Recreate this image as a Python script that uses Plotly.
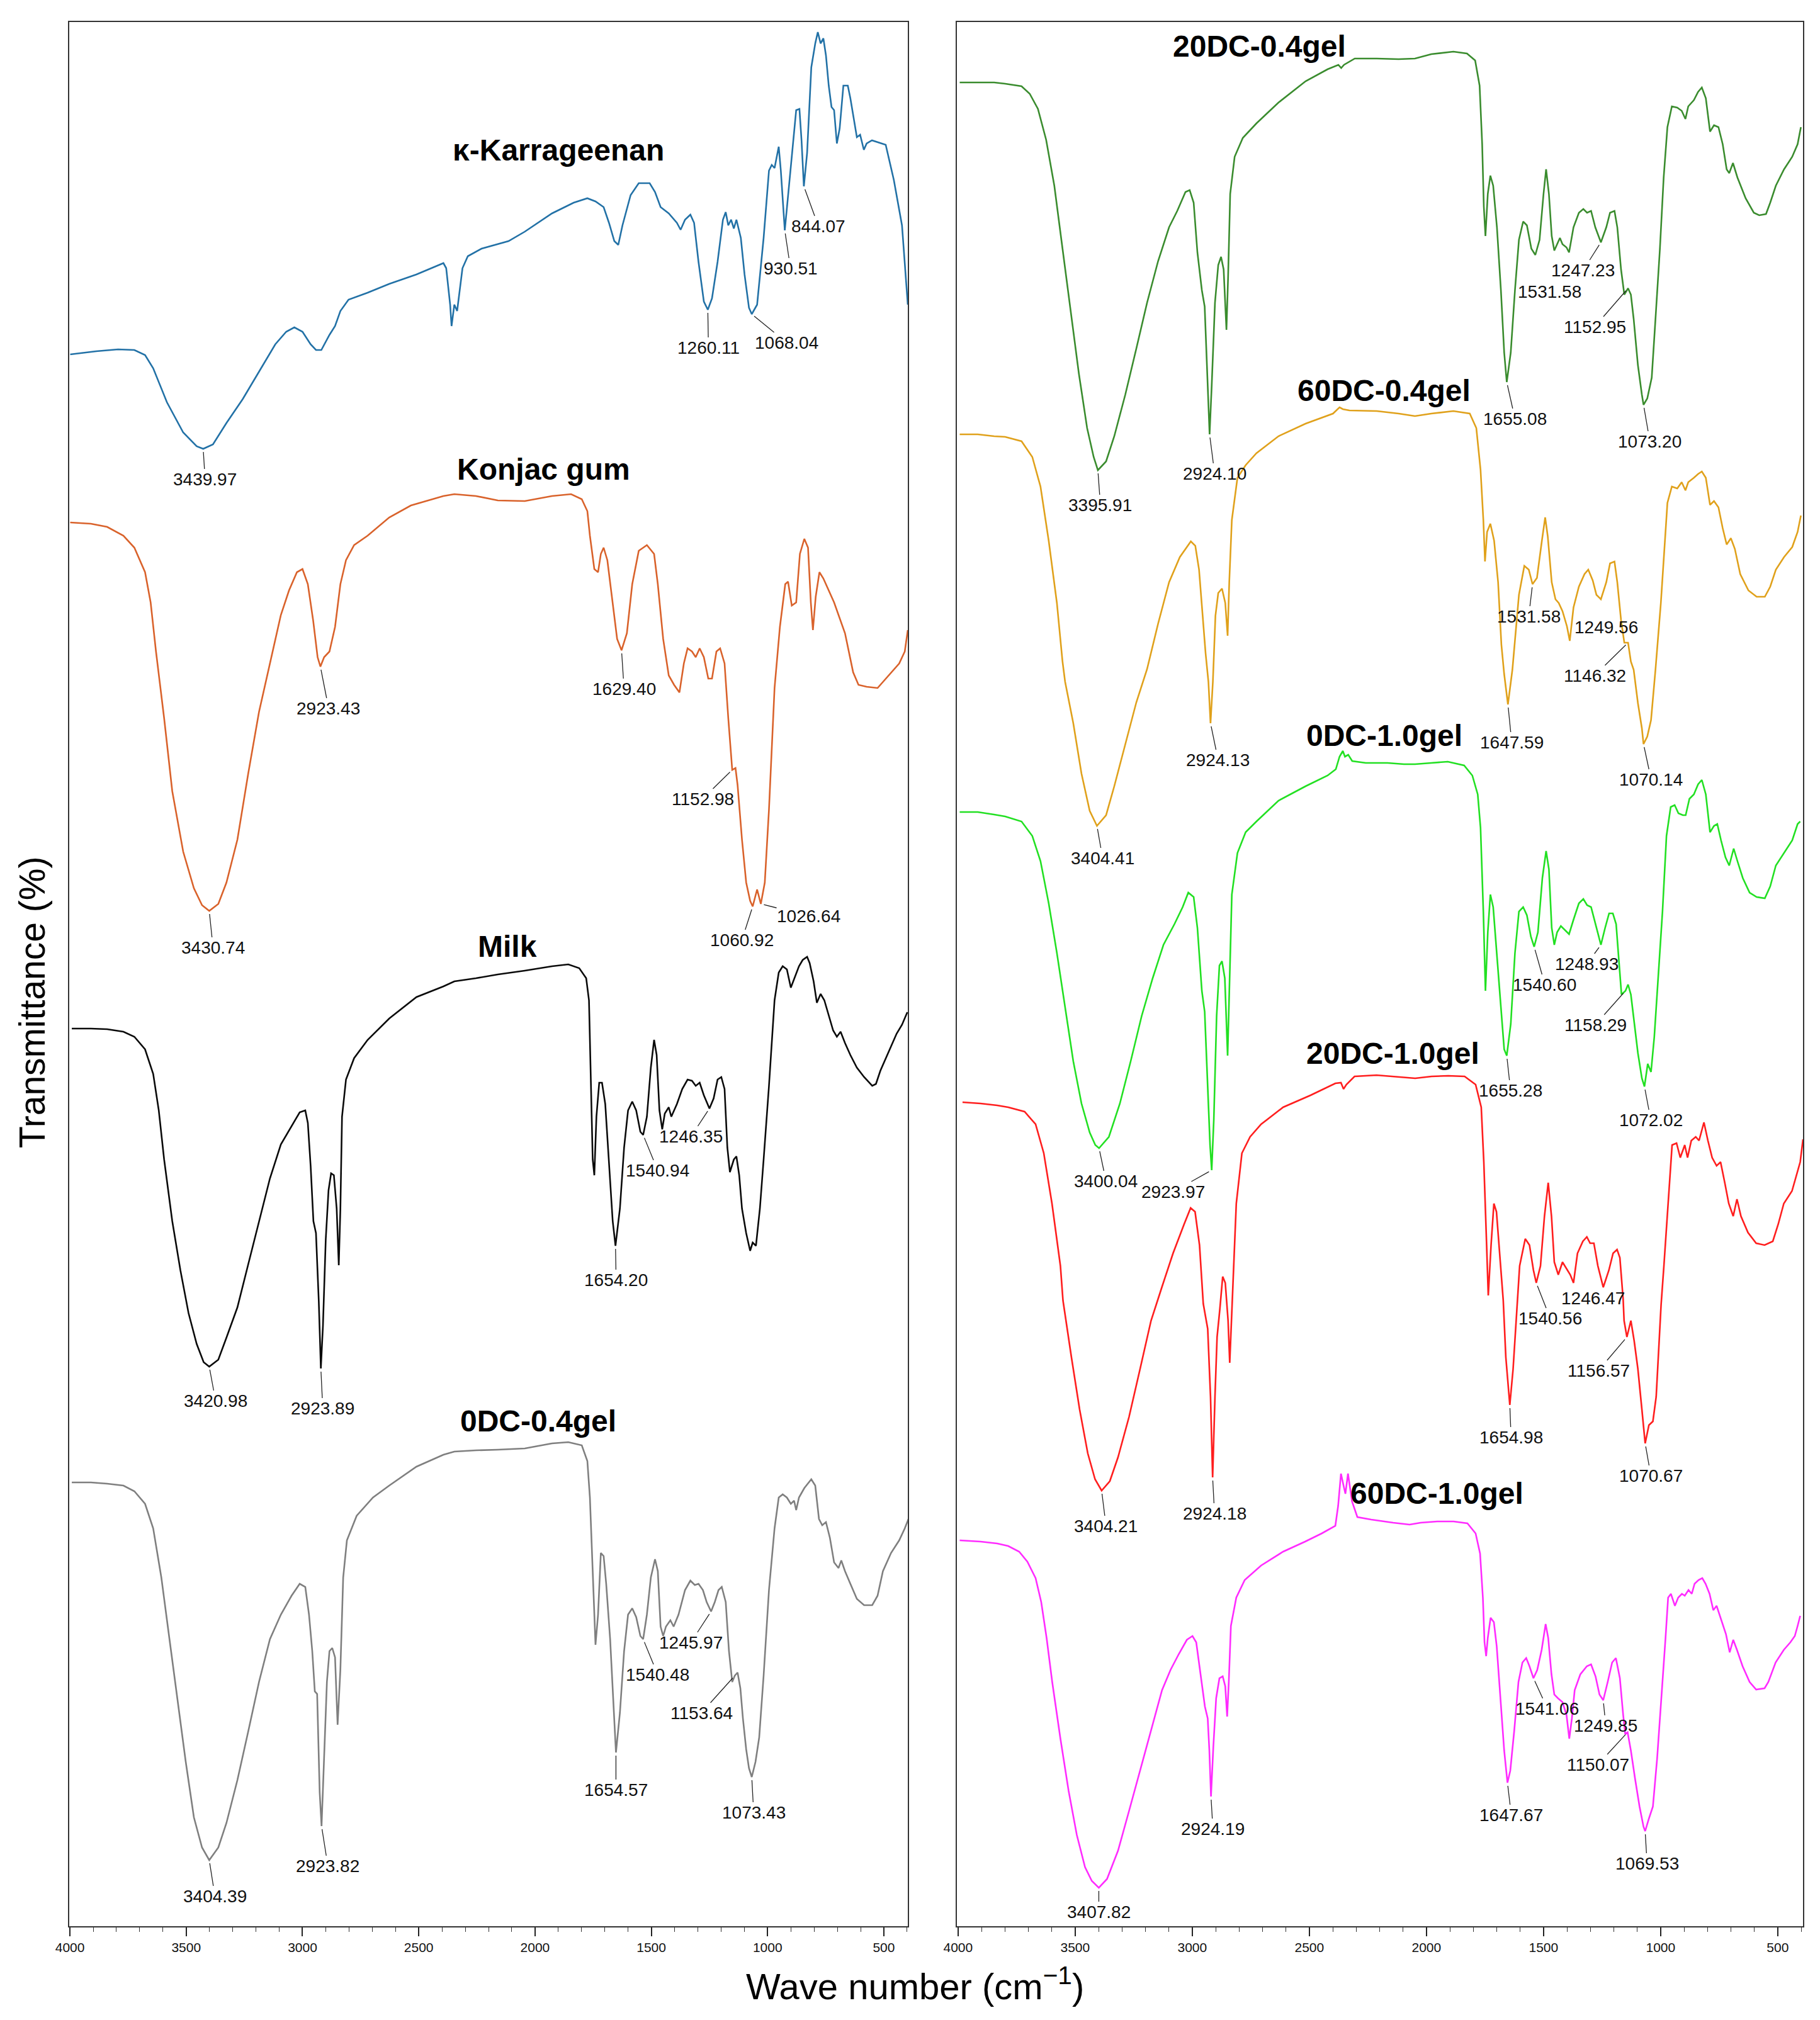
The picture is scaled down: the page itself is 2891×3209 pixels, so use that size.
import glob
import os
import numpy as np
import plotly.graph_objects as go

# ---------------- data ----------------
# each spectrum: (wavenumber cm-1, stacked transmittance in arbitrary offset units)
kappa = [(3999,249.7),(3887,250.2),(3793,250.5),(3723,250.4),(3677,249.6),(3642,247.5),(3583,242.1),(3513,237.3),(3455,235.1),(3427,234.7),(3385,235.4),(3327,238.8),(3257,242.6),(3187,247.0),(3117,251.3),(3070,253.3),(3035,254.0),(3000,253.3),(2965,251.3),(2942,250.4),(2919,250.4),(2884,252.8),(2860,254.2),(2837,256.6),(2802,258.4),(2720,259.5),(2627,260.9),(2510,262.4),(2394,264.2),(2382,263.4),(2365,257.6),(2359,254.2),(2347,257.6),(2335,256.6),(2312,263.4),(2289,265.3),(2230,266.5),(2114,267.7),(2044,269.2),(1927,272.1),(1834,273.8),(1775,274.5),(1740,274.0),(1705,273.1),(1682,270.6),(1659,267.7),(1642,267.1),(1624,270.2),(1589,275.0),(1554,276.9),(1507,276.9),(1484,275.5),(1460,273.1),(1425,272.1),(1390,270.6),(1374,269.5),(1355,271.1),(1332,271.9),(1316,270.6),(1297,264.4),(1274,258.1),(1257,256.8),(1239,258.6),(1215,264.4),(1192,271.1),(1180,272.3),(1169,270.2),(1157,271.1),(1145,269.7),(1134,271.1),(1115,268.2),(1099,262.4),(1080,257.1),(1068,256.1),(1045,257.6),(1017,268.2),(994,278.9),(982,279.8),(970,279.3),(952,282.7),(943,278.9),(926,269.4),(912,275.0),(896,280.8),(877,288.5),(863,288.7),(854,283.7),(844,276.4),(830,281.7),(812,295.3),(795,299.1),(784,300.9),(772,299.1),(760,299.9),(749,297.2),(737,292.4),(725,289.0),(714,288.5),(702,283.2),(690,285.6),(674,292.4),(655,292.4),(644,290.4),(616,284.2),(602,284.6),(586,282.2),(574,283.2),(551,283.7),(492,283.0),(457,277.4),(422,270.2),(397,257.6)]

konjac = [(3999,223.0),(3910,222.8),(3840,222.3),(3770,220.9),(3723,219.0),(3677,215.1),(3653,210.3),(3630,202.5),(3595,191.9),(3560,180.3),(3513,170.7),(3467,164.9),(3432,162.2),(3401,161.3),(3362,162.4),(3327,165.8),(3280,172.6),(3233,183.2),(3187,192.9),(3140,200.6),(3093,208.3),(3058,212.2),(3024,215.1),(3000,215.6),(2977,213.2),(2954,207.4),(2935,201.6),(2923,200.1),(2907,201.6),(2884,202.5),(2860,206.4),(2837,213.2),(2813,217.0),(2778,219.4),(2720,220.9),(2627,223.8),(2534,225.7),(2394,227.2),(2347,227.5),(2254,227.2),(2160,226.5),(2044,226.4),(1927,227.2),(1845,227.5),(1799,226.7),(1775,224.8),(1764,220.9),(1745,215.6),(1729,215.1),(1717,218.0),(1705,219.0),(1689,217.0),(1670,211.2),(1647,204.5),(1628,202.7),(1605,205.4),(1582,213.2),(1554,218.5),(1519,219.4),(1488,218.0),(1472,213.2),(1449,204.5),(1425,198.7),(1402,197.2),(1379,196.0),(1360,200.6),(1344,203.0),(1325,202.5),(1309,201.6),(1292,203.0),(1274,201.6),(1255,198.2),(1239,198.2),(1220,202.5),(1204,203.0),(1185,200.6),(1169,191.9),(1152,183.7),(1138,184.0),(1129,181.3),(1110,172.6),(1092,165.8),(1075,162.9),(1064,162.0),(1045,164.7),(1029,162.4),(1012,165.8),(994,177.4),(970,196.7),(947,206.4),(924,213.2),(912,213.6),(896,209.8),(877,210.3),(861,218.0),(842,220.4),(826,219.0),(814,210.3),(805,205.9),(793,211.2),(777,215.1),(760,214.1),(737,212.2),(714,210.3),(667,205.4),(632,199.2),(609,197.2),(574,196.9),(527,196.7),(480,198.7),(434,200.6),(410,202.5),(397,205.9)]

milk = [(3992,142.6),(3910,142.6),(3840,142.5),(3770,142.1),(3723,141.3),(3677,139.3),(3642,135.4),(3618,129.6),(3595,121.8),(3560,112.0),(3525,104.2),(3490,97.4),(3455,92.5),(3425,89.6),(3401,88.9),(3362,90.0),(3327,93.5),(3280,98.3),(3233,105.2),(3187,112.0),(3140,118.8),(3093,124.2),(3047,127.1),(3012,129.3),(2988,129.6),(2977,127.6),(2965,120.8),(2953,112.0),(2942,110.1),(2930,99.3),(2921,88.6),(2912,95.4),(2900,109.1),(2888,116.9),(2877,119.6),(2865,119.3),(2853,114.0),(2844,105.0),(2837,114.0),(2830,128.6),(2813,134.5),(2778,137.9),(2720,140.8),(2627,144.2),(2510,147.6),(2394,149.3),(2347,150.1),(2254,150.6),(2160,151.2),(2044,151.8),(1927,152.5),(1857,152.8),(1810,152.2),(1780,150.6),(1768,147.1),(1759,133.5),(1752,121.8),(1745,119.3),(1736,128.6),(1724,134.0),(1712,134.0),(1698,130.6),(1682,120.8),(1666,112.0),(1654,108.1),(1635,114.0),(1617,123.7),(1600,129.6),(1582,131.0),(1565,129.6),(1547,126.2),(1535,125.7),(1519,128.6),(1502,136.4),(1488,140.8),(1477,138.4),(1465,129.6),(1453,126.6),(1442,129.1),(1425,130.1),(1414,128.6),(1390,130.6),(1367,133.0),(1344,134.5),(1325,134.3),(1309,133.5),(1292,134.0),(1274,132.0),(1250,129.9),(1232,131.5),(1215,134.5),(1199,134.9),(1185,133.0),(1173,123.7),(1162,119.8),(1145,121.8),(1134,122.3),(1122,119.3),(1110,114.0),(1092,110.1),(1075,107.3),(1064,108.6),(1050,108.1),(1033,114.0),(1017,121.8),(994,133.5),(970,147.1),(952,151.5),(935,152.5),(917,152.0),(900,149.1),(884,150.6),(865,152.5),(849,153.5),(830,154.0),(819,153.0),(802,150.1),(788,146.7),(772,148.1),(756,147.1),(737,144.7),(718,142.3),(702,141.3),(686,142.1),(667,140.3),(644,138.4),(616,136.4),(585,134.9),(550,133.5),(534,133.8),(515,135.9),(480,138.8),(445,141.8),(422,143.2),(399,145.2)]

dc0_04 = [(3992,70.5),(3910,70.5),(3840,70.3),(3770,70.0),(3723,69.1),(3677,67.1),(3642,63.2),(3607,55.4),(3572,45.6),(3537,35.9),(3502,26.1),(3467,17.3),(3432,12.5),(3401,10.5),(3362,12.5),(3327,16.4),(3280,23.2),(3233,31.0),(3187,38.8),(3140,45.6),(3093,49.5),(3047,52.5),(3012,54.4),(2988,53.9),(2972,49.5),(2958,43.7),(2947,37.3),(2937,36.9),(2926,21.2),(2918,15.9),(2907,26.1),(2895,38.8),(2884,43.7),(2872,44.2),(2860,42.7),(2849,32.0),(2837,40.8),(2825,55.4),(2809,61.3),(2767,65.2),(2697,68.1),(2627,70.0),(2510,73.0),(2394,74.9),(2347,75.4),(2254,75.6),(2160,75.7),(2044,75.9),(1927,76.7),(1857,76.9),(1799,76.4),(1775,73.9),(1764,68.1),(1752,55.4),(1740,44.7),(1729,49.5),(1717,59.3),(1705,58.8),(1694,54.4),(1677,45.6),(1663,35.9),(1652,27.6),(1635,33.9),(1617,43.7),(1600,49.5),(1582,50.5),(1565,49.1),(1547,46.1),(1535,45.6),(1519,49.5),(1502,55.4),(1484,58.3),(1472,56.4),(1460,47.6),(1449,46.1),(1437,47.6),(1418,48.6),(1404,47.6),(1383,49.5),(1355,53.4),(1332,54.9),(1313,54.2),(1297,54.4),(1278,53.4),(1262,51.5),(1243,50.0),(1227,51.5),(1211,53.4),(1197,53.9),(1180,51.5),(1166,43.7),(1152,38.8),(1141,39.8),(1129,40.3),(1117,37.8),(1106,33.0),(1092,28.1),(1080,25.1),(1068,23.7),(1052,26.1),(1036,30.0),(1017,39.8),(994,53.4),(970,63.2),(952,68.1),(935,68.6),(917,68.1),(900,67.1),(886,67.6),(877,66.1),(865,68.1),(842,69.6),(812,71.0),(795,70.0),(779,64.7),(765,63.7),(749,64.2),(732,61.7),(714,57.8),(695,56.9),(683,58.1),(667,56.4),(644,54.4),(616,52.0),(585,51.0),(550,51.0),(527,52.5),(504,56.4),(469,59.3),(434,61.3),(410,63.2),(394,64.7)]

dc20_04 = [(3993,292.9),(3916,292.9),(3846,292.9),(3799,292.7),(3729,292.3),(3694,291.1),(3659,288.7),(3624,283.8),(3589,276.5),(3554,266.5),(3519,256.6),(3484,246.6),(3449,238.0),(3421,233.4),(3403,231.3),(3368,232.7),(3333,236.7),(3286,243.3),(3239,250.6),(3193,257.9),(3146,264.5),(3099,269.9),(3064,272.5),(3029,275.5),(3011,275.8),(2994,273.8),(2978,265.9),(2959,259.9),(2947,257.3),(2936,246.6),(2926,237.0),(2917,244.7),(2903,257.9),(2889,263.9),(2877,265.2),(2866,263.2),(2854,253.6),(2847,261.9),(2838,275.2),(2819,281.1),(2784,284.1),(2726,286.4),(2632,289.7),(2516,293.1),(2422,295.0),(2376,295.7),(2364,295.2),(2352,295.7),(2306,296.7),(2212,296.7),(2119,296.6),(2049,296.7),(1979,297.4),(1885,297.8),(1827,297.5),(1792,296.4),(1773,292.4),(1762,283.1),(1755,273.2),(1748,268.5),(1738,275.2),(1727,278.1),(1715,276.5),(1699,269.9),(1682,259.9),(1668,250.0),(1657,245.3),(1640,250.0),(1622,259.9),(1605,267.9),(1587,270.8),(1571,270.2),(1552,266.5),(1535,265.5),(1517,267.9),(1500,275.2),(1489,279.1),(1477,275.2),(1465,268.5),(1454,266.2),(1442,267.2),(1430,268.2),(1419,267.2),(1402,266.7),(1391,265.9),(1372,269.9),(1349,272.2),(1330,272.8),(1314,272.2),(1297,272.5),(1279,269.9),(1255,267.5),(1232,269.9),(1216,272.2),(1197,272.5),(1185,269.9),(1169,263.2),(1155,259.2),(1139,260.2),(1127,259.2),(1115,255.3),(1097,248.0),(1080,243.3),(1073,241.7),(1057,242.7),(1038,246.0),(1022,255.3),(1003,266.5),(987,277.8),(971,285.8),(952,289.1),(929,288.9),(910,288.4),(894,287.1),(882,289.1),(858,290.1),(840,291.4),(824,292.1),(807,290.4),(789,285.1),(772,286.1),(753,285.8),(735,283.1),(718,279.1),(707,278.5),(691,280.1),(672,277.8),(637,274.5),(602,272.2),(579,271.8),(550,272.0),(532,273.8),(508,276.5),(473,279.1),(438,281.1),(415,283.1),(401,285.8)]

dc60_04 = [(3993,237.0),(3916,237.0),(3846,236.7),(3799,236.6),(3729,235.9),(3683,233.4),(3648,228.7),(3613,220.1),(3578,210.2),(3554,200.9),(3543,197.7),(3508,191.1),(3473,183.1),(3438,177.2),(3407,174.8),(3368,176.5),(3333,181.1),(3286,187.8),(3239,194.4),(3193,199.7),(3146,206.9),(3099,213.5),(3053,217.5),(3006,220.0),(2987,219.3),(2971,215.5),(2954,206.9),(2943,202.2),(2931,197.7),(2922,191.1),(2912,197.7),(2901,208.2),(2889,211.8),(2873,212.5),(2859,210.2),(2849,205.0),(2842,213.5),(2831,223.4),(2807,230.1),(2772,232.1),(2726,234.0),(2632,236.7),(2516,238.7),(2399,240.3),(2371,241.3),(2357,241.0),(2329,240.8),(2212,240.7),(2119,240.3),(2049,239.9),(1979,240.3),(1885,240.7),(1815,240.3),(1787,238.0),(1769,231.4),(1757,223.4),(1750,216.8),(1741,221.5),(1727,222.8),(1711,220.1),(1694,213.5),(1680,203.6),(1668,198.9),(1652,194.1),(1633,199.6),(1617,206.9),(1605,211.5),(1582,216.1),(1563,215.5),(1547,213.2),(1528,214.2),(1507,220.1),(1493,223.8),(1482,220.8),(1465,213.5),(1449,210.8),(1435,210.2),(1419,208.9),(1400,206.5),(1388,204.2),(1372,209.5),(1349,212.8),(1325,214.8),(1309,215.5),(1290,213.8),(1274,211.5),(1255,210.8),(1232,213.5),(1216,216.5),(1197,216.8),(1185,213.5),(1169,207.5),(1155,203.9),(1139,203.9),(1127,200.9),(1115,199.6),(1097,194.3),(1080,190.3),(1073,187.8),(1057,189.0),(1041,191.6),(1022,199.6),(999,210.2),(971,226.1),(952,228.7),(929,228.4),(910,229.4),(894,228.1),(882,229.4),(858,230.1),(840,230.7),(824,231.1),(807,230.1),(789,225.8),(772,226.4),(753,225.4),(735,222.1),(718,219.5),(700,220.5),(683,218.8),(660,214.8),(625,212.2),(590,211.2),(555,211.2),(532,212.8),(508,215.5),(473,217.5),(438,219.1),(415,221.5),(401,224.1)]

dc0_10 = [(3993,177.0),(3916,177.0),(3846,176.6),(3799,176.3),(3729,175.5),(3683,173.2),(3648,169.2),(3613,162.5),(3578,154.6),(3543,146.0),(3508,137.4),(3473,130.7),(3438,126.1),(3414,124.1),(3398,123.6),(3356,125.4),(3309,130.7),(3263,137.4),(3216,144.6),(3169,150.6),(3123,155.9),(3076,159.2),(3041,161.9),(3017,164.2),(2994,163.5),(2978,158.6),(2959,148.6),(2947,145.3),(2936,134.7),(2924,124.1),(2917,120.1),(2908,128.1),(2896,144.6),(2884,152.6),(2873,153.3),(2861,150.6),(2849,138.3),(2840,150.6),(2831,163.9),(2807,170.5),(2772,173.8),(2726,175.5),(2632,178.8),(2516,181.1),(2422,182.8),(2387,183.8),(2371,185.8),(2357,186.7),(2348,185.8),(2334,186.1),(2317,185.1),(2259,184.8),(2166,184.8),(2096,184.6),(2049,184.6),(1979,184.8),(1909,185.0),(1839,184.4),(1804,182.8),(1781,179.8),(1769,174.5),(1757,161.2),(1748,148.6),(1738,157.9),(1727,163.9),(1715,161.9),(1699,154.6),(1682,146.0),(1668,139.3),(1657,138.3),(1640,143.3),(1622,154.6),(1605,161.2),(1587,161.9),(1571,160.6),(1554,157.2),(1540,155.6),(1524,157.9),(1505,166.5),(1489,170.8),(1477,167.9),(1465,158.6),(1454,155.9),(1442,157.9),(1426,158.9),(1407,158.2),(1391,157.6),(1372,159.9),(1349,162.5),(1330,163.2),(1314,162.2),(1297,161.9),(1279,159.2),(1255,155.9),(1237,158.6),(1220,160.9),(1204,160.9),(1190,159.2),(1178,153.3),(1167,148.0),(1150,148.6),(1139,149.6),(1127,148.0),(1111,143.3),(1097,138.7),(1080,134.7),(1069,133.4),(1055,137.0),(1041,135.7),(1027,141.3),(1010,151.3),(992,161.2),(975,173.2),(957,177.8),(940,178.1),(924,176.8),(905,176.5),(893,176.5),(877,179.1),(858,179.8),(840,181.4),(824,182.1),(807,179.8),(789,173.8),(772,174.8),(758,175.1),(742,172.5),(723,169.8),(707,168.5),(688,171.2),(672,169.2),(649,166.5),(620,164.2),(590,163.5),(555,163.3),(532,165.2),(508,168.5),(473,170.5),(438,172.5),(415,175.1),(404,175.5)]

dc20_10 = [(3981,130.9),(3904,130.7),(3833,130.4),(3786,130.1),(3716,129.4),(3669,127.4),(3634,122.8),(3599,114.8),(3563,104.9),(3552,99.4),(3516,90.4),(3481,82.1),(3446,75.1),(3415,71.0),(3387,69.2),(3352,70.7),(3317,74.5),(3270,80.9),(3223,88.5),(3176,96.2),(3129,101.6),(3082,106.9),(3035,111.5),(3007,114.1),(2988,113.5),(2969,108.2),(2953,98.9),(2934,94.9),(2922,84.1),(2913,71.3),(2903,84.1),(2894,93.6),(2882,98.1),(2870,103.2),(2859,102.2),(2847,96.2),(2840,89.5),(2833,96.2),(2823,104.9),(2812,114.8),(2788,122.8),(2753,125.4),(2706,127.4),(2612,130.1),(2495,132.0),(2389,133.9),(2365,134.0),(2354,133.0),(2342,133.7),(2307,135.0),(2213,135.2),(2142,135.0),(2048,134.7),(1978,135.0),(1907,135.1),(1837,135.0),(1790,133.7),(1766,130.1),(1755,121.4),(1743,108.2),(1736,100.2),(1724,108.2),(1712,114.8),(1701,113.5),(1684,104.9),(1672,99.4),(1661,90.4),(1644,82.8),(1630,88.5),(1614,97.4),(1602,104.9),(1578,109.2),(1560,108.2),(1543,104.2),(1531,102.2),(1513,104.9),(1496,112.8),(1480,118.1),(1466,112.8),(1454,105.5),(1437,103.5),(1419,105.5),(1402,104.5),(1386,103.5),(1372,102.2),(1355,106.9),(1332,108.8),(1315,109.5),(1301,108.5),(1285,108.5),(1268,104.9),(1245,101.5),(1221,104.2),(1203,106.9),(1186,107.5),(1174,106.2),(1160,99.6),(1156,96.2),(1144,93.6),(1127,96.2),(1113,93.0),(1097,88.5),(1080,82.1),(1066,76.7),(1050,79.6),(1033,80.2),(1019,84.1),(1008,92.3),(998,98.7),(986,104.9),(968,114.8),(951,124.1),(932,124.4),(916,122.1),(897,124.1),(885,122.1),(869,124.8),(850,125.4),(836,124.8),(815,127.7),(798,124.8),(780,122.1),(761,120.8),(744,121.4),(726,118.1),(709,114.8),(690,112.8),(674,115.5),(657,112.8),(627,110.2),(592,108.5),(556,108.2),(521,108.8),(498,111.5),(474,114.8),(439,116.8),(404,121.4),(392,125.0)]

dc60_10 = [(3993,61.3),(3904,61.1),(3833,60.8),(3786,60.4),(3739,59.5),(3704,57.9),(3669,55.3),(3645,51.5),(3622,45.8),(3598,38.8),(3563,29.8),(3528,21.5),(3493,14.5),(3458,9.4),(3429,7.2),(3399,6.1),(3364,7.5),(3317,12.0),(3270,18.3),(3223,24.7),(3176,31.1),(3129,37.5),(3093,40.7),(3058,43.2),(3023,45.5),(2999,46.1),(2983,45.1),(2964,40.0),(2946,34.9),(2934,33.0),(2927,27.9),(2920,20.6),(2910,28.5),(2898,36.2),(2884,39.4),(2870,39.7),(2859,38.1),(2851,33.3),(2844,38.8),(2835,47.7),(2812,52.2),(2776,55.0),(2706,57.3),(2612,59.5),(2518,61.1),(2447,62.4),(2389,63.6),(2377,66.8),(2365,71.9),(2354,70.0),(2346,68.7),(2335,71.9),(2318,67.5),(2295,65.0),(2236,64.6),(2142,64.1),(2072,63.8),(2025,64.1),(1954,64.3),(1884,64.3),(1825,64.0),(1790,62.4),(1771,59.2),(1759,52.2),(1752,45.1),(1745,42.9),(1738,45.8),(1726,49.0),(1712,48.3),(1700,44.5),(1684,36.2),(1668,27.9),(1654,22.8),(1642,24.7),(1625,31.1),(1607,38.8),(1590,41.9),(1574,42.6),(1560,41.3),(1543,39.4),(1527,40.7),(1508,43.9),(1491,48.0),(1480,45.8),(1466,40.0),(1454,36.8),(1438,36.2),(1419,35.6),(1402,33.6),(1390,29.8),(1379,33.0),(1367,37.5),(1343,40.0),(1315,41.3),(1297,41.6),(1278,39.7),(1261,36.8),(1245,35.9),(1226,38.8),(1207,41.9),(1191,42.6),(1174,39.4),(1160,33.6),(1151,30.5),(1141,30.8),(1127,27.9),(1109,23.4),(1090,19.0),(1073,15.8),(1066,15.1),(1050,17.1),(1033,19.0),(1015,26.6),(996,36.2),(979,45.8),(968,52.2),(956,52.8),(939,50.9),(925,52.2),(909,52.8),(897,52.5),(881,53.4),(867,52.8),(855,54.4),(838,55.0),(822,55.3),(808,54.4),(791,52.8),(775,50.2),(761,50.9),(744,49.0),(721,46.4),(705,43.5),(690,45.5),(674,43.9),(650,41.3),(620,38.8),(592,37.6),(556,37.8),(540,38.8),(509,41.9),(474,43.9),(446,45.1),(427,46.1),(415,47.7),(404,49.3)]

# peak labels: (label text, wavenumber where the label points on the trace)
peaks_kappa = [("3439.97", 3427), ("1260.11", 1257), ("1068.04", 1068), ("930.51", 926), ("844.07", 844)]
peaks_konjac = [("3430.74", 3401), ("2923.43", 2923), ("1629.40", 1628), ("1152.98", 1152), ("1060.92", 1064), ("1026.64", 1029)]
peaks_milk = [("3420.98", 3401), ("2923.89", 2921), ("1654.20", 1654), ("1540.94", 1535), ("1246.35", 1250)]
peaks_dc0_04 = [("3404.39", 3401), ("2923.82", 2918), ("1654.57", 1652), ("1540.48", 1535), ("1245.97", 1243), ("1153.64", 1141), ("1073.43", 1068)]
peaks_dc20_04 = [("3395.91", 3403), ("2924.10", 2926), ("1655.08", 1657), ("1531.58", 1535), ("1247.23", 1255), ("1152.95", 1139), ("1073.20", 1073)]
peaks_dc60_04 = [("3404.41", 3407), ("2924.13", 2922), ("1647.59", 1652), ("1531.58", 1547), ("1249.56", 1255), ("1146.32", 1139), ("1070.14", 1073)]
peaks_dc0_10 = [("3400.04", 3398), ("2923.97", 2917), ("1655.28", 1657), ("1540.60", 1540), ("1248.93", 1255), ("1158.29", 1150), ("1072.02", 1069)]
peaks_dc20_10 = [("3404.21", 3387), ("2924.18", 2913), ("1654.98", 1644), ("1540.56", 1531), ("1246.47", 1245), ("1156.57", 1144), ("1070.67", 1066)]
peaks_dc60_10 = [("3407.82", 3399), ("2924.19", 2920), ("1647.67", 1654), ("1541.06", 1543), ("1249.85", 1245), ("1150.07", 1141), ("1069.53", 1066)]

# ---------------- styling / layout (not data) ----------------
WIN_W, WIN_H = 2891, 3209
BODY = 8                      # default page margin around the plot div
W, H = WIN_W - 2 * BODY, WIN_H - 2 * BODY

def px_x(X):                  # window pixel -> paper fraction
    return (X - BODY) / W

def px_y(Y):
    return 1 - (Y - BODY) / H

def has_font(token):
    dirs = ["/usr/share/fonts", "/usr/local/share/fonts",
            os.path.expanduser("~/.fonts"), os.path.expanduser("~/.local/share/fonts")]
    for d in dirs:
        if glob.glob(os.path.join(d, "**", "*" + token + "*"), recursive=True):
            return True
    return False

NARROW = has_font("LiberationSansNarrow")
if NARROW:
    LBL_FONT = dict(family="Liberation Sans Narrow", size=35, color="#111111")
    TICK_FONT = dict(family="Liberation Sans Narrow", size=26, color="#111111")
else:
    LBL_FONT = dict(family="Liberation Sans, Arial", size=28, color="#111111")
    TICK_FONT = dict(family="Liberation Sans, Arial", size=21, color="#111111")
NAME_FONT = dict(family="Liberation Sans, Arial", size=48, color="#000000")

# label-text offsets (pixels) from the pointed position: (dx, dy) with dy downward
OFFSETS = {
    "kappa": [(3, 48), (1, 60), (55, 45), (9, 60), (23, 63)],
    "konjac": [(6, 58), (13, 66), (4, 61), (-47, 46), (-17, 53), (76, 19)],
    "milk": [(10, 54), (3, 63), (1, 54), (23, 56), (-29, 44)],
    "dc0_04": [(9, 57), (10, 63), (0, 59), (23, 56), (-32, 49), (-53, 59), (3, 56)],
    "dc20_04": [(4, 55), (8, 62), (13, 58), (23, 58), (-28, 44), (-53, 61), (10, 58)],
    "dc60_04": [(9, 51), (12, 58), (6, 60), (-6, 51), (9, 44), (-53, 52), (12, 56)],
    "dc0_10": [(11, 52), (-61, 34), (6, 55), (17, 60), (-22, 30), (-48, 54), (10, 53)],
    "dc20_10": [(7, 56), (3, 57), (2, 51), (22, 56), (-16, 17), (-45, 53), (9, 51)],
    "dc60_10": [(0, 38), (3, 51), (6, 51), (22, 48), (4, 40), (-47, 51), (3, 51)],
}

# (key, name, data, peaks, colour, panel, name-label position in data coords)
SERIES = [
    ("kappa", "\u03ba-Karrageenan", kappa, peaks_kappa, "#2271a6", 1, (1899, 282.2)),
    ("konjac", "Konjac gum", konjac, peaks_konjac, "#d9622b", 1, (1962, 231.5)),
    ("milk", "Milk", milk, peaks_milk, "#0a0a0a", 1, (2118, 155.7)),
    ("dc0_04", "0DC-0.4gel", dc0_04, peaks_dc0_04, "#7f7f7f", 1, (1985, 80.3)),
    ("dc20_04", "20DC-0.4gel", dc20_04, peaks_dc20_04, "#3a8c2e", 2, (2714, 298.7)),
    ("dc60_04", "60DC-0.4gel", dc60_04, peaks_dc60_04, "#e0a11b", 2, (2180, 244.0)),
    ("dc0_10", "0DC-1.0gel", dc0_10, peaks_dc0_10, "#22e022", 2, (2180, 189.2)),
    ("dc20_10", "20DC-1.0gel", dc20_10, peaks_dc20_10, "#ff1e1e", 2, (2144, 138.7)),
    ("dc60_10", "60DC-1.0gel", dc60_10, peaks_dc60_10, "#ff2bff", 2, (1955, 68.8)),
]

fig = go.Figure()
annotations = []
for key, name, data, peaks, color, panel, name_pos in SERIES:
    wn = [p[0] for p in data]
    tr = [p[1] for p in data]
    xa = "x" if panel == 1 else "x2"
    ya = "y" if panel == 1 else "y2"
    fig.add_trace(go.Scatter(x=wn, y=tr, mode="lines", name=name,
                             line=dict(color=color, width=2.6),
                             xaxis=xa, yaxis=ya, showlegend=False,
                             hoverinfo="x+y+name"))
    annotations.append(dict(x=name_pos[0], y=name_pos[1], xref=xa, yref=ya,
                            text="<b>%s</b>" % name, showarrow=False,
                            font=NAME_FONT, xanchor="center", yanchor="middle"))
    wn_inc = np.array(wn[::-1], dtype=float)
    tr_inc = np.array(tr[::-1], dtype=float)
    for (txt, w), (dx, dy) in zip(peaks, OFFSETS[key]):
        yv = float(np.interp(w, wn_inc, tr_inc))
        annotations.append(dict(x=w, y=yv, xref=xa, yref=ya, text=txt,
                                showarrow=True, arrowhead=0, arrowwidth=1.3,
                                arrowcolor="#222222", standoff=5,
                                ax=dx, ay=dy, font=LBL_FONT, borderpad=0))

# axis titles
annotations.append(dict(x=px_x(1453), y=px_y(3151), xref="paper", yref="paper",
                        text="Wave number (cm<sup>\u22121</sup>)", showarrow=False,
                        font=dict(family="Liberation Sans, Arial", size=58, color="#000"),
                        xanchor="center", yanchor="middle"))
annotations.append(dict(x=px_x(51), y=px_y(1592), xref="paper", yref="paper",
                        text="Transmittance (%)", showarrow=False, textangle=-90,
                        font=dict(family="Liberation Sans, Arial", size=57, color="#000"),
                        xanchor="center", yanchor="middle"))

xcommon = dict(showline=True, mirror=True, linecolor="#333333", linewidth=2,
               ticks="outside", ticklen=14, tickwidth=1.5, tickcolor="#222222",
               tick0=0, dtick=500, tickfont=TICK_FONT, showgrid=False,
               zeroline=False, tickformat="d", automargin=False,
               minor=dict(ticks="outside", dtick=100, ticklen=7, tickwidth=1.2,
                          tickcolor="#333333", showgrid=False))
ycommon = dict(showline=True, mirror=True, linecolor="#333333", linewidth=2,
               showticklabels=False, ticks="", showgrid=False, zeroline=False,
               range=[0, 302.5], automargin=False)
ydom = [px_y(3060), px_y(35)]

fig.update_layout(
    width=W, height=H,
    margin=dict(l=0, r=0, t=0, b=0, autoexpand=False),
    paper_bgcolor="white", plot_bgcolor="white",
    xaxis=dict(domain=[px_x(110), px_x(1442)], range=[4003, 397], anchor="y", **xcommon),
    xaxis2=dict(domain=[px_x(1520), px_x(2864)], range=[4005, 392], anchor="y2", **xcommon),
    yaxis=dict(domain=ydom, anchor="x", **ycommon),
    yaxis2=dict(domain=ydom, anchor="x2", **ycommon),
    annotations=annotations,
    showlegend=False,
)

fig.write_html("out.html")
